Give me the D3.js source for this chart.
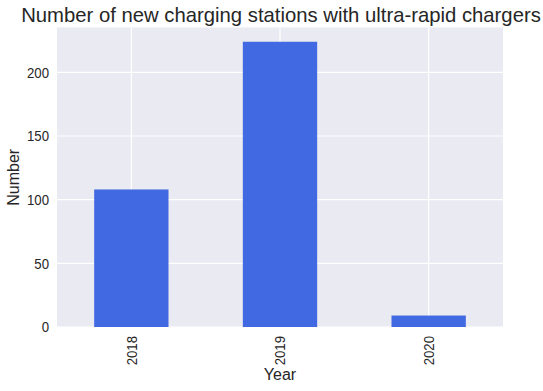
<!DOCTYPE html>
<html><head><meta charset="utf-8">
<script src="https://cdn.jsdelivr.net/npm/d3@7"></script>
<style>body{margin:0;background:#fff;} text{font-family:"Liberation Sans",Arial,sans-serif;fill:#262626;}</style>
</head><body>
<svg id="c" width="543" height="391"></svg>
<script>
const categories = ["2018", "2019", "2020"];
const values = [108, 224, 9];
const yTicks = [0, 50, 100, 150, 200];
const title = "Number of new charging stations with ultra-rapid chargers";
const xLabel = "Year";
const yLabel = "Number";

const svg = d3.select("#c");
const m = {l: 57, r: 503, t: 27.5, b: 327};
const x = d3.scaleBand().domain(categories).range([m.l, m.r]).paddingInner(0.5).paddingOuter(0.25);
const y = d3.scaleLinear().domain([0, d3.max(values) * 1.05]).range([m.b, m.t]);

svg.append("rect").attr("x", m.l).attr("y", m.t).attr("width", m.r - m.l).attr("height", m.b - m.t).attr("fill", "#EAEAF2");

const g = svg.append("g");
g.selectAll(".hg").data(yTicks).join("line")
  .attr("x1", m.l).attr("x2", m.r).attr("y1", d => y(d)).attr("y2", d => y(d))
  .attr("stroke", "#fff").attr("stroke-width", 1.2);
g.selectAll(".vg").data(categories).join("line")
  .attr("x1", d => x(d) + x.bandwidth() / 2).attr("x2", d => x(d) + x.bandwidth() / 2)
  .attr("y1", m.t).attr("y2", m.b)
  .attr("stroke", "#fff").attr("stroke-width", 1.2);

svg.selectAll(".bar").data(categories).join("rect")
  .attr("x", d => x(d)).attr("width", x.bandwidth())
  .attr("y", (d, i) => y(values[i])).attr("height", (d, i) => y(0) - y(values[i]))
  .attr("fill", "#4169E1");

const FF = '"Liberation Sans",Arial,sans-serif';
const SX = 0.88;
// y axis
const ya = svg.append("g").attr("transform", `translate(${m.l},0)`)
  .call(d3.axisLeft(y).tickValues(yTicks).tickSize(0).tickPadding(8));
ya.select(".domain").remove();
ya.selectAll("text").style("font-size", "15px").style("font-family", FF).attr("fill", "#262626")
  .attr("x", -8 / SX).attr("transform", `scale(${SX},1)`);

// x axis
const xa = svg.append("g").attr("transform", `translate(0,${m.b})`)
  .call(d3.axisBottom(x).tickSize(0).tickPadding(0));
xa.select(".domain").remove();
xa.selectAll("text")
  .style("font-size", "15px").style("font-family", FF).attr("fill", "#262626")
  .attr("transform", `rotate(-90) scale(${SX},1)`)
  .attr("x", -9 / SX).attr("y", 0).attr("dy", "0.35em")
  .attr("text-anchor", "end");

svg.append("text").attr("x", (m.l + m.r) / 2 + 1).attr("y", 22).attr("text-anchor", "middle")
  .style("font-size", "20.3px").text(title);
svg.append("text").attr("x", (m.l + m.r) / 2).attr("y", 380).attr("text-anchor", "middle")
  .style("font-size", "16px").text(xLabel);
svg.append("text").attr("transform", `translate(19,${(m.t + m.b) / 2}) rotate(-90)`).attr("text-anchor", "middle")
  .style("font-size", "16px").text(yLabel);
</script>
</body></html>
